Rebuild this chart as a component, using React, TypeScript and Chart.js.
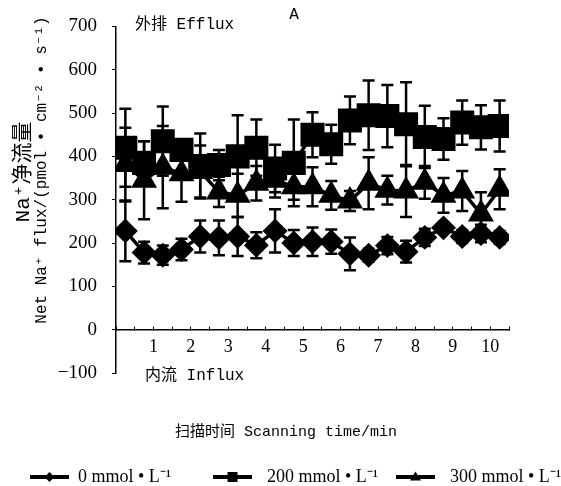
import React, { useEffect, useRef } from "react";
import { Chart, registerables } from "chart.js";

Chart.register(...registerables);

// 21 scanning points (category index 0..20)
const flux0 = [228, 178, 172, 185, 215, 212, 215, 195, 228, 200, 203, 203, 175, 172, 194, 180, 213, 235, 215, 222, 213];
const err0 = [70, 25, 22, 25, 37, 40, 45, 30, 50, 30, 33, 28, 38, 15, 20, 25, 20, 12, 15, 20, 15];
const flux200 = [420, 385, 435, 415, 378, 380, 400, 420, 372, 385, 450, 428, 483, 495, 493, 474, 445, 440, 478, 467, 470];
const err200 = [90, 50, 80, 20, 75, 35, 95, 65, 55, 100, 52, 45, 55, 80, 72, 97, 72, 48, 51, 51, 59];
const flux300 = [381, 345, 375, 360, 365, 318, 310, 338, 345, 330, 330, 310, 297, 338, 322, 320, 340, 310, 320, 267, 324];
const err300 = [85, 90, 95, 65, 60, 35, 50, 40, 40, 30, 45, 33, 23, 60, 33, 60, 38, 40, 46, 50, 46];

const xTickLabels = ["1", "2", "3", "4", "5", "6", "7", "8", "9", "10"];
const seriesNames = ["0 mmol • L⁻¹", "200 mmol • L⁻¹", "300 mmol • L⁻¹"];
const yTitleLines = ["Na⁺净流量", "Net Na⁺ flux/(pmol • cm⁻² • s⁻¹)"];
const xTitle = "扫描时间 Scanning time/min";
const effluxLabel = "外排 Efflux";
const influxLabel = "内流 Influx";
const panelLabel = "A";

const MONO = '"Liberation Mono", "Noto Sans CJK SC", monospace';
const SERIF = '"Liberation Serif", "Noto Sans CJK SC", serif';

const errorBarPlugin = {
  id: "errorBars",
  beforeDatasetsDraw(chart: any) {
    const ctx = chart.ctx;
    const ys = chart.scales.y;
    ctx.save();
    ctx.strokeStyle = "#000";
    ctx.lineWidth = 2.5;
    chart.data.datasets.forEach((ds: any, di: number) => {
      const meta = chart.getDatasetMeta(di);
      meta.data.forEach((pt: any, i: number) => {
        const v = ds.data[i].y;
        const e = ds.errors[i];
        const x = pt.x;
        const t = ys.getPixelForValue(v + e);
        const b = ys.getPixelForValue(v - e);
        ctx.beginPath();
        ctx.moveTo(x, t);
        ctx.lineTo(x, b);
        ctx.moveTo(x - 6, t);
        ctx.lineTo(x + 6, t);
        ctx.moveTo(x - 6, b);
        ctx.lineTo(x + 6, b);
        ctx.stroke();
      });
    });
    ctx.restore();
  },
};

function drawMarker(ctx: CanvasRenderingContext2D, style: string, x: number, y: number, s: number) {
  ctx.beginPath();
  if (style === "rectRot") {
    ctx.moveTo(x, y - s);
    ctx.lineTo(x + s, y);
    ctx.lineTo(x, y + s);
    ctx.lineTo(x - s, y);
  } else if (style === "rect") {
    ctx.rect(x - s, y - s, 2 * s, 2 * s);
  } else {
    ctx.moveTo(x, y - s * 1.1);
    ctx.lineTo(x + s * 1.1, y + s * 0.7);
    ctx.lineTo(x - s * 1.1, y + s * 0.7);
  }
  ctx.closePath();
  ctx.fill();
}

const textPlugin = {
  id: "texts",
  afterDraw(chart: any) {
    const ctx = chart.ctx;
    ctx.save();
    ctx.fillStyle = "#000";
    ctx.strokeStyle = "#000";
    ctx.textAlign = "center";
    ctx.textBaseline = "middle";
    // y-axis title (two rotated lines)
    const yFonts = [`21px ${MONO}`, `16px ${MONO}`];
    [23, 42].forEach((cx, k) => {
      ctx.save();
      ctx.font = yFonts[k];
      ctx.translate(cx, k === 0 ? 172 : 170);
      ctx.rotate(-Math.PI / 2);
      ctx.fillText(yTitleLines[k], 0, 0);
      ctx.restore();
    });
    // x-axis title
    ctx.font = `15px ${MONO}`;
    ctx.fillText(xTitle, 286, 432);
    // in-plot labels
    ctx.font = `16px ${MONO}`;
    ctx.textAlign = "left";
    ctx.fillText(effluxLabel, 135, 25);
    ctx.fillText(influxLabel, 145, 376);
    ctx.textAlign = "center";
    ctx.fillText(panelLabel, 294, 15);
    // legend
    const styles = ["rectRot", "rect", "triangle"];
    const lineStart = [30, 213, 396];
    const textStart = [78, 267, 450];
    const ly = 477;
    ctx.lineWidth = 4;
    ctx.font = `18px ${SERIF}`;
    ctx.textAlign = "left";
    for (let k = 0; k < 3; k++) {
      ctx.beginPath();
      ctx.moveTo(lineStart[k], ly);
      ctx.lineTo(lineStart[k] + 39, ly);
      ctx.stroke();
      drawMarker(ctx, styles[k], lineStart[k] + 19.5, ly, 5);
      ctx.fillText(seriesNames[k], textStart[k], ly);
    }
    ctx.restore();
  },
};

export default function App() {
  const ref = useRef<HTMLCanvasElement>(null);
  useEffect(() => {
    if (!ref.current) return;
    const mk = (vals: number[]) => vals.map((v, i) => ({ x: i, y: v }));
    const common = {
      borderColor: "#000",
      backgroundColor: "#000",
      pointBackgroundColor: "#000",
      pointBorderColor: "#000",
      borderWidth: 3.5,
      tension: 0,
    };
    const chart = new Chart(ref.current, {
      type: "line",
      data: {
        datasets: [
          { ...common, label: seriesNames[0], data: mk(flux0), errors: err0, pointStyle: "rectRot", pointRadius: 10 } as any,
          { ...common, label: seriesNames[1], data: mk(flux200), errors: err200, pointStyle: "rect", pointRadius: 14.5 } as any,
          { ...common, label: seriesNames[2], data: mk(flux300), errors: err300, pointStyle: "triangle", pointRadius: 11.5 } as any,
        ],
      },
      options: {
        responsive: false,
        animation: false,
        events: [],
        layout: { padding: { left: 0, top: 20, right: 52, bottom: 113 } },
        plugins: {
          legend: { display: false },
          tooltip: { enabled: false },
          title: { display: false },
        },
        scales: {
          x: {
            type: "linear",
            min: -0.5,
            max: 20.5,
            position: { y: 0 } as any,
            border: { color: "#000", width: 1.5 },
            grid: { drawOnChartArea: false, drawTicks: true, tickLength: -4, color: "#000", lineWidth: 1 },
            ticks: {
              stepSize: 1,
              autoSkip: false,
              maxRotation: 0,
              padding: 11,
              color: "#000",
              font: { family: SERIF, size: 18 },
              callback: (v: any) => {
                const k = (Number(v) + 0.5) / 2;
                return Number.isInteger(k) && k >= 1 && k <= 10 ? xTickLabels[k - 1] : "";
              },
            },
          },
          y: {
            min: -100,
            max: 700,
            border: { color: "#000", width: 1.5 },
            grid: { drawOnChartArea: false, drawTicks: true, tickLength: 4, color: "#000", lineWidth: 1 },
            ticks: {
              stepSize: 100,
              padding: 15,
              color: "#000",
              font: { family: SERIF, size: 19 },
              callback: (v: any) => (Number(v) < 0 ? "−" + Math.abs(Number(v)) : String(v)),
            },
            afterFit: (s: any) => {
              s.width = 116;
            },
          },
        },
      },
      plugins: [errorBarPlugin, textPlugin],
    });
    return () => chart.destroy();
  }, []);
  return (
    <div style={{ position: "absolute", left: 0, top: 0, width: 561, height: 486 }}>
      <canvas ref={ref} width={561} height={486} style={{ display: "block" }} />
    </div>
  );
}
